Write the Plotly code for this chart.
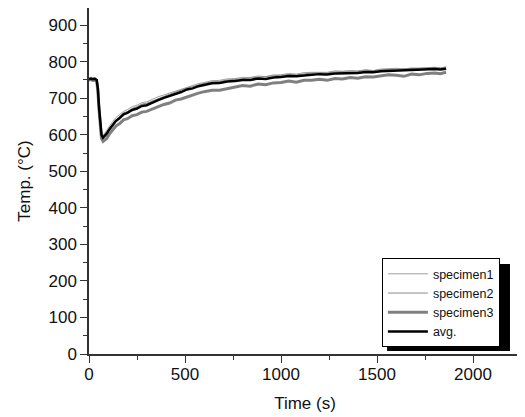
import plotly.graph_objects as go

time_s = [0,10,20,30,40, 46,52,58,65,73, 82,92,105,120,140, 160,180,200,225,250,
          275,300,330,360,390, 420,450,480,510,540, 570,600,640,680,720, 760,800,840,880,920,
          960,1000,1040,1080,1120, 1160,1200,1240,1280,1320, 1360,1400,1440,1480,1520,
          1560,1600,1640,1680,1720, 1760,1800,1830,1860]
specimen1 = [755,758,756,757,754, 733,685,638,608,600, 604,612,623,634,647, 655,664,669,677,681,
             688,690,698,704,709, 714,721,725,731,735, 740,743,748,749,753, 754,757,757,761,759,
             764,764,768,766,770, 771,772,771,775,774, 776,775,778,776,780,
             781,782,780,783,782, 784,785,783,786]
specimen2 = [750,752,750,751,748, 726,676,628,598,590, 595,603,615,627,640, 650,660,664,672,677,
             684,686,693,700,705, 711,717,722,728,732, 737,741,745,746,750, 752,754,755,758,758,
             761,762,765,764,767, 769,770,769,772,773, 774,773,777,775,778,
             779,780,779,782,781, 783,784,783,785]
specimen3 = [750,751,749,750,747, 722,670,620,590,582, 585,590,601,612,624, 631,641,644,652,655,
             662,664,671,676,683, 687,695,698,704,708, 714,718,722,722,727, 731,735,733,739,737,
             742,743,747,744,749, 749,752,749,754,753, 757,755,759,758,761,
             764,763,760,766,764, 768,769,767,771]
avg = [752,754,752,753,750, 728,678,630,600,592, 596,603,614,625,638, 646,656,660,668,672,
       679,681,689,695,701, 706,713,717,724,727, 733,736,741,742,746, 747,750,750,754,753,
       757,758,761,760,763, 764,766,765,768,768, 770,769,772,771,774,
       775,776,775,778,777, 779,780,779,781]

FONT = "Liberation Sans, Arial, sans-serif"

fig = go.Figure()
fig.add_trace(go.Scatter(x=time_s, y=specimen1, mode="lines", name="specimen1",
                         line=dict(color="#a0a0a0", width=1)))
fig.add_trace(go.Scatter(x=time_s, y=specimen2, mode="lines", name="specimen2",
                         line=dict(color="#8a8a8a", width=1)))
fig.add_trace(go.Scatter(x=time_s, y=specimen3, mode="lines", name="specimen3",
                         line=dict(color="#808080", width=3)))
fig.add_trace(go.Scatter(x=time_s, y=avg, mode="lines", name="avg.",
                         line=dict(color="#000000", width=2.5)))

axis_common = dict(showgrid=False, zeroline=False, showline=True, linecolor="#333333",
                   linewidth=1.5, ticks="outside", ticklen=7, tickwidth=1.2,
                   tickcolor="#333333", mirror=False, automargin=False,
                   tickfont=dict(family=FONT, size=17, color="#111111"))

fig.update_xaxes(range=[0, 2250], tickvals=[0, 500, 1000, 1500, 2000],
                 minor=dict(ticks="outside", ticklen=4, tickcolor="#333333", dtick=250, tick0=0),
                 ticklabelstandoff=-3,
                 title=dict(text="Time (s)", font=dict(family=FONT, size=17, color="#111111"), standoff=14),
                 **axis_common)
fig.update_yaxes(range=[0, 947], tickvals=[0,100,200,300,400,500,600,700,800,900],
                 minor=dict(ticks="outside", ticklen=4, tickcolor="#333333", dtick=50, tick0=0),
                 title=dict(text="Temp. (°C)", font=dict(family=FONT, size=17, color="#111111"), standoff=14),
                 **axis_common)

# legend shadow (drawn behind the legend box)
fig.add_shape(type="rect", xref="paper", yref="paper", x0=0.690, x1=0.9745, y0=0.009, y1=0.260,
              fillcolor="black", line=dict(width=0), layer="above")

fig.update_layout(
    width=517, height=409,
    margin=dict(l=81, r=4, t=0, b=63),
    paper_bgcolor="white", plot_bgcolor="white",
    showlegend=True,
    legend=dict(x=0.678, y=0.277, xanchor="left", yanchor="top",
                bgcolor="white", bordercolor="black", borderwidth=1,
                font=dict(family=FONT, size=12.5, color="#111111"),
                itemwidth=40, tracegroupgap=0),
)

fig.write_html("out.html")
